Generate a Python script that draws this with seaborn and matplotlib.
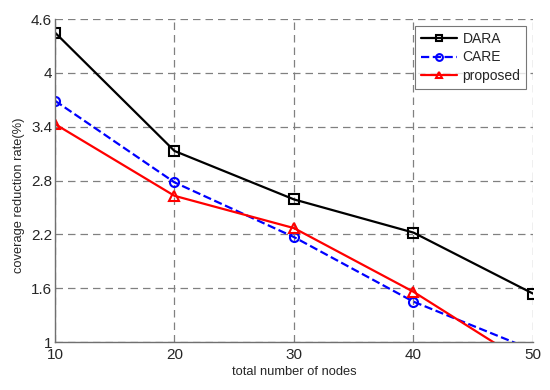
import matplotlib
matplotlib.use("Agg")
import matplotlib.pyplot as plt
import seaborn as sns
import pandas as pd

nodes = [10, 20, 30, 40, 50]
dara = [4.45, 3.13, 2.59, 2.22, 1.54]
care = [3.69, 2.78, 2.17, 1.45, 0.91]
proposed = [3.43, 2.63, 2.27, 1.56, 0.72]

y_ticks = [1, 1.6, 2.2, 2.8, 3.4, 4, 4.6]
y_tick_labels = ["1", "1.6", "2.2", "2.8", "3.4", "4", "4.6"]

sns.set_style("white")
plt.rcParams["font.family"] = ["Liberation Sans", "DejaVu Sans"]

df = pd.DataFrame({"nodes": nodes, "DARA": dara, "CARE": care, "proposed": proposed})

fig = plt.figure(figsize=(5.5, 3.9), dpi=100)
ax = fig.add_axes([0.1, 0.123, 0.869, 0.828])

series = [
    ("DARA", "black", "-", "s"),
    ("CARE", "blue", "--", "o"),
    ("proposed", "red", "-", "^"),
]
for name, color, ls, marker in series:
    sns.lineplot(
        data=df, x="nodes", y=name, ax=ax, color=color, linestyle=ls,
        marker=marker, markersize=6.5, markerfacecolor="none",
        markeredgecolor=color, markeredgewidth=1.5, linewidth=1.6, label=name,
    )

ax.set_xlim(10, 50)
ax.set_ylim(1, 4.6)
ax.set_xticks(nodes)
ax.set_yticks(y_ticks)
ax.set_yticklabels(y_tick_labels)
ax.tick_params(axis="both", labelsize=11, direction="in", length=3, color="#555555")
ax.tick_params(axis="y", pad=2)
ax.tick_params(axis="x", pad=4)
ax.grid(True, color="#808080", linestyle=(0, (6, 4)), linewidth=0.9)
for s in ["top", "right"]:
    ax.spines[s].set_visible(False)
for s in ["left", "bottom"]:
    ax.spines[s].set_color("#707070")
    ax.spines[s].set_linewidth(1.0)

ax.set_xlabel("total number of nodes", fontsize=9.3, labelpad=3)
ax.set_ylabel("coverage reduction rate(%)", fontsize=9.3)
ax.yaxis.set_label_coords(-0.063, 0.455)

leg = ax.legend(loc="upper right", fontsize=10, frameon=True, fancybox=False,
                borderaxespad=0.5, handlelength=2.6, labelspacing=0.35,
                markerscale=0.75, handletextpad=0.4, borderpad=0.4)
leg.get_frame().set_edgecolor("#555555")
leg.get_frame().set_linewidth(0.8)

fig.savefig("out.png", dpi=100)
